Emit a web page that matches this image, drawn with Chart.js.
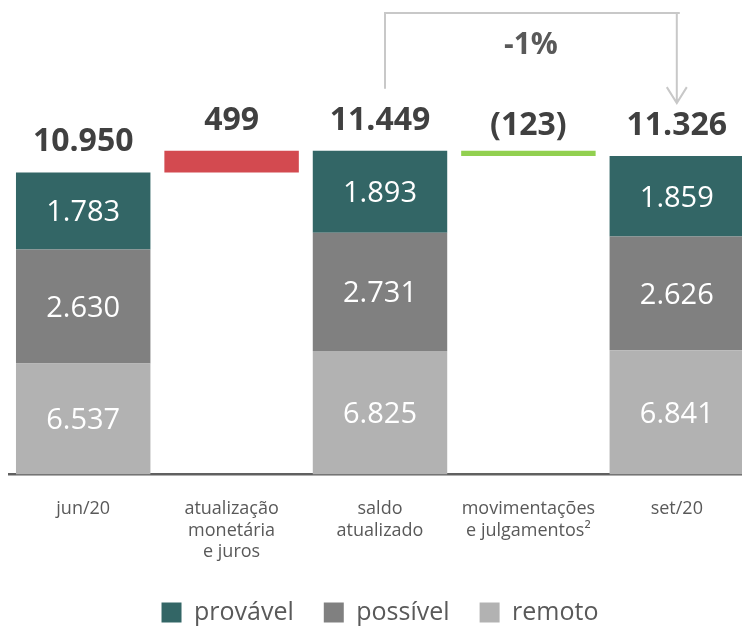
<!DOCTYPE html>
<html>
<head>
<meta charset="utf-8">
<script src="https://cdn.jsdelivr.net/npm/chart.js@4"></script>
<style>
  html, body { margin: 0; padding: 0; background: #fff; overflow: hidden; }
  #wrap { width: 751px; height: 626px; }
</style>
</head>
<body>
<div id="wrap"><canvas id="chart"></canvas></div>
<script>
// dados (R$ milhões)
const categorias = [['jun/20'], ['atualização', 'monetária', 'e juros'], ['saldo', 'atualizado'], ['movimentações', 'e julgamentos²'], ['set/20']];
const remoto   = [6537, null, 6825, null, 6841];
const possivel = [2630, null, 2731, null, 2626];
const provavel = [1783, null, 1893, null, 1859];
const base     = [null, 10950, null, 11326, null];   // início invisível das barras de variação
const variacao = [null, 499, null, 123, null];
const sinal    = [0, 1, 0, -1, 0];                   // 1 = aumento, -1 = redução
const totais   = [10950, 499, 11449, -123, 11326];

const FONT = '"Open Sans", "Noto Sans", sans-serif';

function fmt(v) {
  const s = Math.abs(v).toString().replace(/\B(?=(\d{3})+(?!\d))/g, '.');
  return v < 0 ? '(' + s + ')' : s;
}

const rotulos = {
  id: 'rotulos',
  beforeInit(chart) {
    // legenda um pouco mais baixa
    const fit = chart.legend.fit;
    chart.legend.fit = function () {
      fit.call(this);
      this.height -= 9;
    };
  },
  afterDatasetsDraw(chart) {
    const ctx = chart.ctx;
    const x = chart.scales.x, y = chart.scales.y;
    const bottom = chart.chartArea.bottom;
    ctx.save();
    ctx.textAlign = 'center';
    ctx.textBaseline = 'middle';

    // valores dentro das barras
    ctx.fillStyle = '#ffffff';
    ctx.font = '29px ' + FONT;
    [0, 1, 2].forEach(di => {
      chart.getDatasetMeta(di).data.forEach((bar, i) => {
        const v = chart.data.datasets[di].data[i];
        if (v == null) return;
        ctx.fillText(fmt(v), bar.x, (bar.y + Math.min(bar.base, bottom)) / 2 + 2);
      });
    });

    // totais e variações acima
    ctx.fillStyle = '#404040';
    ctx.font = 'bold 32px ' + FONT;
    totais.forEach((t, i) => {
      let topo;
      if (sinal[i] === 0) topo = t;
      else topo = base[i] + (sinal[i] > 0 ? variacao[i] : 0);
      ctx.fillText(fmt(t), x.getPixelForValue(i), y.getPixelForValue(topo) - 30);
    });

    // seta -1% entre saldo atualizado e set/20
    const x1 = x.getPixelForValue(2) + 5;
    const x2 = x.getPixelForValue(4);
    const yt = chart.chartArea.top + 3;
    const yb1 = y.getPixelForValue(totais[2]) - 62;
    const yb2 = y.getPixelForValue(totais[4]) - 53;
    ctx.strokeStyle = '#c8c8c8';
    ctx.lineWidth = 2;
    ctx.beginPath();
    ctx.moveTo(x1, yb1);
    ctx.lineTo(x1, yt);
    ctx.lineTo(x2 + 3, yt);
    ctx.moveTo(x2, yt);
    ctx.lineTo(x2, yb2);
    ctx.moveTo(x2 - 10, yb2 - 16);
    ctx.lineTo(x2, yb2);
    ctx.lineTo(x2 + 10, yb2 - 16);
    ctx.stroke();

    const pct = Math.round((totais[4] / totais[2] - 1) * 100);
    ctx.fillStyle = '#595959';
    ctx.font = 'bold 30px ' + FONT;
    ctx.fillText(pct + '%', (x1 + x2) / 2, yt + 32);
    ctx.restore();
  }
};

new Chart(document.getElementById('chart'), {
  type: 'bar',
  data: {
    labels: categorias,
    datasets: [
      { label: 'remoto', data: remoto, backgroundColor: '#b2b2b2' },
      { label: 'possível', data: possivel, backgroundColor: '#808080' },
      { label: 'provável', data: provavel, backgroundColor: '#336666' },
      { label: 'base', data: base, backgroundColor: 'rgba(0,0,0,0)' },
      { label: 'variação', data: variacao, backgroundColor: sinal.map(s => s < 0 ? '#92d050' : '#d34a50') }
    ]
  },
  options: {
    responsive: true,
    maintainAspectRatio: false,
    animation: false,
    layout: { padding: { left: 9, right: 0, top: 10, bottom: 0 } },
    datasets: { bar: { stack: 'a', categoryPercentage: 1, barPercentage: 0.906 } },
    scales: {
      x: {
        stacked: true,
        grid: { display: false },
        border: { color: '#606060', width: 2.5 },
        ticks: { color: '#595959', font: { family: FONT, size: 18, lineHeight: 1.2 }, padding: 16 },
        afterFit(scale) { scale.height -= 9; }
      },
      y: {
        stacked: true,
        display: false,
        min: 3980,
        max: 14700
      }
    },
    plugins: {
      tooltip: { enabled: false },
      legend: {
        position: 'bottom',
        labels: {
          filter: item => item.datasetIndex < 3,
          sort: (a, b) => b.datasetIndex - a.datasetIndex,
          boxWidth: 20,
          boxHeight: 20,
          padding: 30,
          color: '#595959',
          font: { family: FONT, size: 25 }
        }
      }
    }
  },
  plugins: [rotulos]
});
</script>
</body>
</html>
